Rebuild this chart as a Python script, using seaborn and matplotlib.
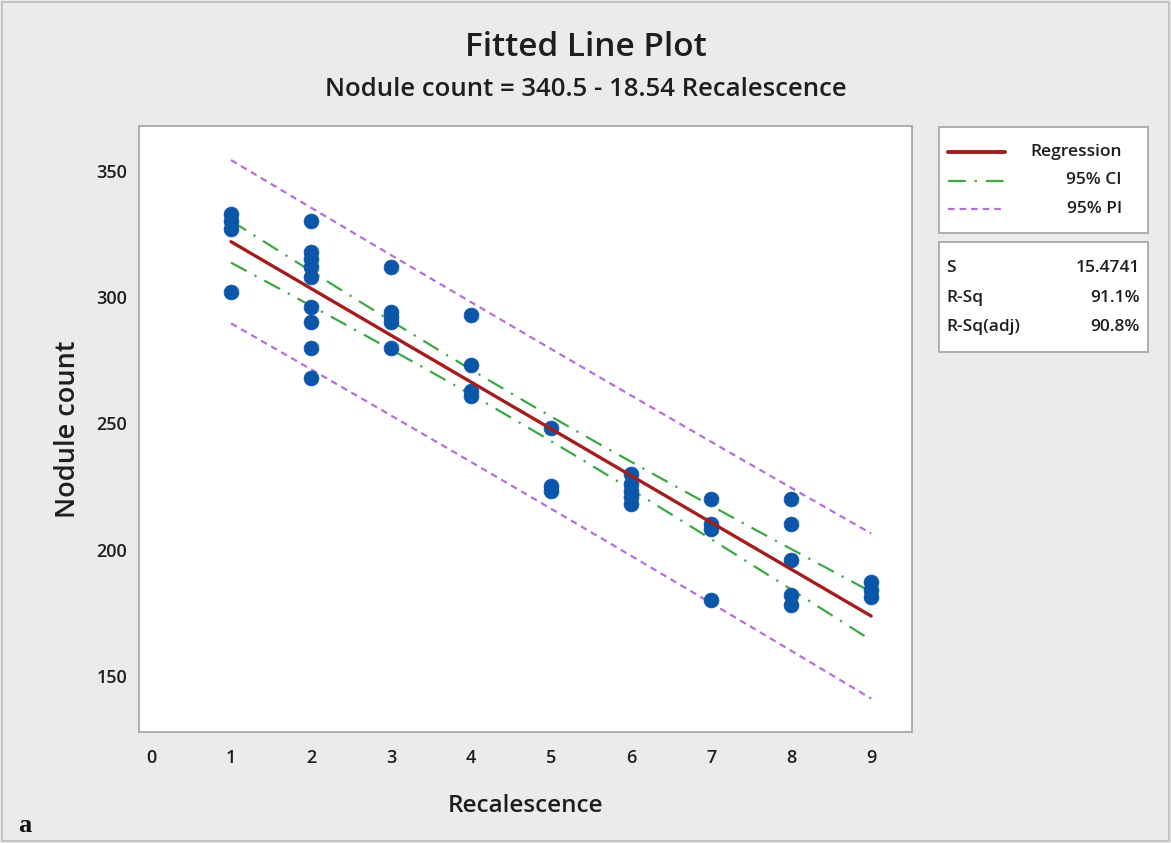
import numpy as np
import pandas as pd
import matplotlib
matplotlib.use("Agg")
import matplotlib.pyplot as plt
import seaborn as sns
from matplotlib.patches import Rectangle
from matplotlib.lines import Line2D

# ---- data ----
recalescence = [1, 1, 1, 1,
                2, 2, 2, 2, 2, 2, 2, 2, 2,
                3, 3, 3, 3, 3,
                4, 4, 4, 4,
                5, 5, 5,
                6, 6, 6, 6, 6,
                7, 7, 7, 7,
                8, 8, 8, 8, 8,
                9, 9, 9]
nodule_count = [333, 330, 327, 302,
                330, 318, 315, 312, 308, 296, 290, 280, 268,
                312, 294, 292, 290, 280,
                293, 273, 263, 261,
                248, 225, 223,
                230, 226, 223, 221, 218,
                220, 210, 208, 180,
                220, 210, 196, 182, 178,
                187, 184, 181]

intercept = 340.5
slope = -18.54
s_value = 15.4741
t_crit = 2.021
stats_labels = ["S", "R-Sq", "R-Sq(adj)"]
stats_values = ["15.4741", "91.1%", "90.8%"]
legend_labels = ["Regression", "95% CI", "95% PI"]
x_ticks = [0, 1, 2, 3, 4, 5, 6, 7, 8, 9]
y_ticks = [150, 200, 250, 300, 350]

df = pd.DataFrame({"Recalescence": recalescence, "Nodule count": nodule_count})
x = np.array(recalescence, dtype=float)
n = len(x)
xbar = x.mean()
sxx = ((x - xbar) ** 2).sum()
xg = np.linspace(1, 9, 100)
fit = intercept + slope * xg
ci = t_crit * s_value * np.sqrt(1 / n + (xg - xbar) ** 2 / sxx)
pi = t_crit * s_value * np.sqrt(1 + 1 / n + (xg - xbar) ** 2 / sxx)
lines = pd.DataFrame({"x": xg, "fit": fit, "ci_lo": fit - ci, "ci_hi": fit + ci,
                      "pi_lo": fit - pi, "pi_hi": fit + pi})

sns.set_style("white")
plt.rcParams["font.family"] = ["Open Sans", "DejaVu Sans"]
W8 = "semibold"

bg = "#ebebeb"
red = "#a51c1c"
green = "#3aa843"
purple = "#b56fd8"
blue = "#0a56a8"
txt = "#1e1e1e"

fig = plt.figure(figsize=(11.71, 8.43), dpi=100)
fig.patch.set_facecolor(bg)
ax = fig.add_axes([139 / 1171, 1 - 732 / 843, (912 - 139) / 1171, (732 - 126) / 843])
ax.set_facecolor("white")

pi_ls = (0, (3, 2.2))
ci_ls = (0, (8, 4, 1, 4))
sns.lineplot(data=lines, x="x", y="pi_hi", ax=ax, color=purple, lw=1.6, linestyle=pi_ls)
sns.lineplot(data=lines, x="x", y="pi_lo", ax=ax, color=purple, lw=1.6, linestyle=pi_ls)
sns.lineplot(data=lines, x="x", y="ci_hi", ax=ax, color=green, lw=1.6, linestyle=ci_ls)
sns.lineplot(data=lines, x="x", y="ci_lo", ax=ax, color=green, lw=1.6, linestyle=ci_ls)
sns.scatterplot(data=df, x="Recalescence", y="Nodule count", ax=ax, color=blue,
                s=115, edgecolor=blue, linewidth=0.5, zorder=3)
sns.lineplot(data=lines, x="x", y="fit", ax=ax, color=red, lw=2.4, zorder=4)

ax.set_xlim(-0.15, 9.51)
ax.set_ylim(127.7, 367.8)
ax.set_xticks(x_ticks)
ax.set_yticks(y_ticks)
ax.tick_params(axis="both", direction="out", length=4.5, width=1, color="#9a9a9a",
               labelsize=13, labelcolor=txt, pad=4)
ax.tick_params(axis="x", pad=8)
for lab in ax.get_xticklabels() + ax.get_yticklabels():
    lab.set_fontweight(W8)
for sp in ax.spines.values():
    sp.set_color("#a8a8a8")
    sp.set_linewidth(1.3)
ax.set_xlabel("Recalescence", fontsize=17.5, color=txt, labelpad=19, fontweight=W8)
ax.set_ylabel("Nodule count", fontsize=19.5, color=txt, labelpad=10, fontweight=W8)

fig.text(0.5, 1 - 48 / 843, "Fitted Line Plot", ha="center", va="center", fontsize=24,
         color=txt, fontweight=W8)
fig.text(0.5, 1 - 90 / 843, "Nodule count = 340.5 - 18.54 Recalescence", ha="center",
         va="center", fontsize=18.5, color=txt, fontweight=W8)

W, H = 1171, 843
def fx(px):
    return px / W
def fy(py):
    return 1 - py / H

# legend box
fig.patches.append(Rectangle((fx(939), fy(233)), fx(1148) - fx(939), fy(127) - fy(233),
                             transform=fig.transFigure, facecolor="white",
                             edgecolor="#a8a8a8", lw=1.3))
styles = [dict(color=red, lw=2.8, linestyle="-"),
          dict(color=green, lw=1.6, linestyle=(0, (8, 4, 1, 4))),
          dict(color=purple, lw=1.6, linestyle=(0, (3, 2.2)))]
for i, (lab, st) in enumerate(zip(legend_labels, styles)):
    yy = fy(152 + i * 28.5)
    fig.lines.append(Line2D([fx(948), fx(1005)], [yy, yy], transform=fig.transFigure, **st))
    fig.text(fx(1122), yy, lab, ha="right", va="center", fontsize=12.5, color=txt,
             fontweight=W8)

# stats box
fig.patches.append(Rectangle((fx(939), fy(352)), fx(1148) - fx(939), fy(242) - fy(352),
                             transform=fig.transFigure, facecolor="white",
                             edgecolor="#a8a8a8", lw=1.3))
for i, (lab, val) in enumerate(zip(stats_labels, stats_values)):
    yy = fy(268 + i * 29.5)
    fig.text(fx(946), yy, lab, ha="left", va="center", fontsize=12.5, color=txt,
             fontweight=W8)
    fig.text(fx(1140), yy, val, ha="right", va="center", fontsize=12.5, color=txt,
             fontweight=W8)

fig.text(fx(18), fy(826), "a", ha="left", va="center", fontsize=19, fontweight="bold",
         family="Liberation Serif", color="#111111")

fig.patches.append(Rectangle((0.002, 0.002), 0.996, 0.996, transform=fig.transFigure,
                             facecolor="none", edgecolor="#c4c4c4", lw=1.5))

fig.savefig("out.png", dpi=100, facecolor=bg)
